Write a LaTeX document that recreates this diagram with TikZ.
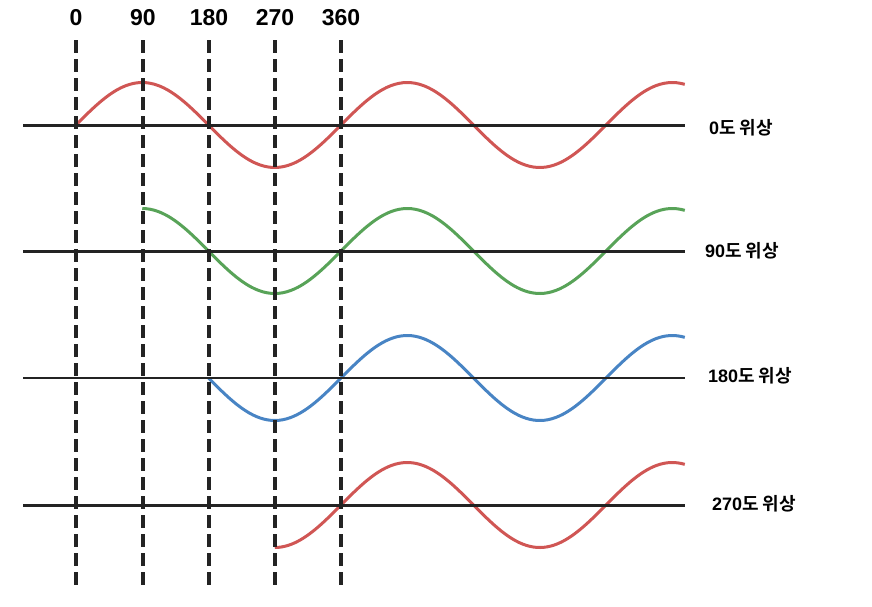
\documentclass[tikz,border=0pt]{standalone}
\usepackage{fontspec}
\setmainfont{Liberation Sans}
\newfontfamily\kr{Noto Sans CJK KR}[BoldFont={Noto Sans CJK KR Bold}]
\usetikzlibrary{positioning}
\definecolor{wavered}{RGB}{208,86,84}
\definecolor{wavegreen}{RGB}{88,163,88}
\definecolor{waveblue}{RGB}{72,132,196}
\definecolor{axisgray}{RGB}{35,35,35}

\begin{document}
\begin{tikzpicture}[x=1pt,y=-1pt,
    wave/.style={line width=3pt},
    axisline/.style={line width=3pt, color=axisgray},
    guide/.style={line width=3.2pt, color=axisgray, dash pattern=on 13pt off 6pt},
    deglabel/.style={font=\fontsize{23}{27}\selectfont\bfseries, inner sep=0pt},
    phaselabel/.style={font=\fontsize{18}{21}\selectfont\bfseries, anchor=west, inner sep=0pt}
]
\useasboundingbox (0,0) rectangle (872,606);

% waves (x = 76 + deg*265/360)
\draw[wave, wavered] plot[domain=0:827, samples=150, smooth] ({76+\x*0.736111}, {125-42.5*sin(\x)});
\draw[wave, wavegreen] plot[domain=90:827, samples=140, smooth] ({76+\x*0.736111}, {251-42.5*sin(\x)});
\draw[wave, waveblue] plot[domain=180:827, samples=130, smooth] ({76+\x*0.736111}, {378-42.5*sin(\x)});
\draw[wave, wavered] plot[domain=270:827, samples=120, smooth] ({76+\x*0.736111}, {505-42.5*sin(\x)});

% base lines
\coordinate (l1) at (23,125);  \coordinate (r1) at (685,125);
\coordinate (l2) at (23,251);  \coordinate (r2) at (685,251);
\coordinate (l3) at (23,378);  \coordinate (r3) at (685,378);
\coordinate (l4) at (23,505);  \coordinate (r4) at (685,505);
\draw[axisline] (l1) -- (r1);
\draw[axisline] (l2) -- (r2);
\draw[axisline, line width=1.6pt] (l3) -- (r3);
\draw[axisline] (l4) -- (r4);

% degree marks
\foreach \d/\px in {0/76, 90/143, 180/209, 270/275, 360/341} {
  \node[deglabel] (d\d) at (\px,18) {\d};
  \coordinate (t\d) at (\px,40);
  \coordinate (b\d) at (\px,590);
  \draw[guide] (t\d) -- (b\d);
}

\node[phaselabel] (p0) at (709,128) {0{\kr 도 위상}};
\node[phaselabel] (p90) at (705,251) {90{\kr 도 위상}};
\node[phaselabel] (p180) at (708,376) {180{\kr 도 위상}};
\node[phaselabel] (p270) at (712,504) {270{\kr 도 위상}};
\end{tikzpicture}
\end{document}
